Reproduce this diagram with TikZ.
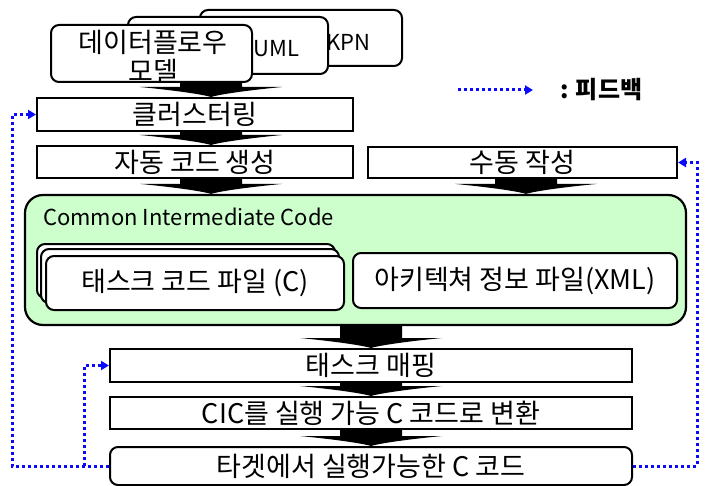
\documentclass[tikz,border=0pt]{standalone}
\usepackage{fontspec}
\setmainfont{Noto Sans CJK KR}
\usetikzlibrary{arrows.meta,calc}
\definecolor{cicgreen}{RGB}{204,255,204}
\definecolor{fbblue}{RGB}{10,10,255}
\pgfdeclarelayer{background}
\pgfsetlayers{background,main}
\newcommand\blockarrow[3]{%
  \begin{pgfonlayer}{background}
  \fill[blockarr] let \p1=(#1 |- #2.south), \p2=(#1 |- #3.north) in
    (\x1-31pt,\y1) -- (\x1-31pt,\y2+10pt) -- (\x1-71pt,\y2+10pt)
    .. controls (\x1-40pt,\y2+7pt) and (\x1-10pt,\y2+3pt) .. (\x1,\y2)
    .. controls (\x1+10pt,\y2+3pt) and (\x1+40pt,\y2+7pt) .. (\x1+71pt,\y2+10pt)
    -- (\x1+31pt,\y2+10pt) -- (\x1+31pt,\y1) -- cycle;
  \end{pgfonlayer}}
\begin{document}
\begin{tikzpicture}[x=1pt,y=-1pt,
  box/.style={draw=black,line width=2pt,fill=white,inner sep=0pt,
    font=\fontsize{27}{29}\selectfont},
  rbox/.style={box,rounded corners=8pt},
  greenbox/.style={draw=black,line width=2.2pt,fill=cicgreen,rounded corners=18pt,inner sep=0pt},
  kor/.style={inner sep=0pt,font=\fontsize{27}{29}\selectfont,align=center},
  lat/.style={inner sep=0pt,font=\fontsize{22}{26}\selectfont},
  fb/.style={draw=fbblue,line width=3pt,dash pattern=on 3pt off 3pt},
  fbtip/.style={-{Triangle[length=8pt,width=9pt]}},
  blockarr/.style={fill=black},
]
\useasboundingbox (0,0) rectangle (708,486);

% source models (stacked)
\node[rbox,minimum width=202pt,minimum height=56pt] (kpn) at (301,38) {};
\node[lat] (kpntxt) at (348.5,42) {KPN};
\node[rbox,minimum width=200pt,minimum height=57pt] (uml) at (228,45.5) {};
\node[lat] (umltxt) at (276.5,49) {UML};
\node[rbox,minimum width=201pt,minimum height=57pt] (dfm) at (151.5,53.5) {};
\node[kor] (dfmtxt) at (153,56.5) {데이터플로우\\모델};

% process boxes
\node[box,minimum width=316pt,minimum height=33pt] (cluster) at (195,114.5) {클러스터링};
\node[box,minimum width=316pt,minimum height=32pt] (auto) at (195,162) {자동 코드 생성};
\node[box,minimum width=309pt,minimum height=31pt] (manual) at (522.5,162.5) {수동 작성};

% common intermediate code
\node[greenbox,minimum width=661pt,minimum height=130pt] (cic) at (355.5,260) {};
\node[lat,anchor=west] (cictxt) at (43,217) {Common Intermediate Code};
\node[rbox,minimum width=298pt,minimum height=54pt] (taskb1) at (186,271) {};
\node[rbox,minimum width=298pt,minimum height=54pt] (taskb2) at (190,276) {};
\node[rbox,minimum width=298pt,minimum height=54pt] (task) at (195,283) {태스크 코드 파일 (C)};
\node[rbox,minimum width=324pt,minimum height=55pt] (arch) at (515,280.5) {아키텍쳐 정보 파일(XML)};

% lower process
\node[box,minimum width=522pt,minimum height=33pt] (mapping) at (371,365.5) {태스크 매핑};
\node[box,minimum width=522pt,minimum height=32pt] (convert) at (371,413) {CIC를 실행 가능 C 코드로 변환};
\node[rbox,minimum width=522pt,minimum height=38pt] (target) at (371,466) {타겟에서 실행가능한 C 코드};

% block arrows
\coordinate (colA) at (211,0);
\coordinate (colB) at (526,0);
\coordinate (colC) at (371,0);
\blockarrow{colA}{dfm}{cluster}
\blockarrow{colA}{cluster}{auto}
\blockarrow{colA}{auto}{cic}
\blockarrow{colB}{manual}{cic}
\blockarrow{colC}{cic}{mapping}
\blockarrow{colC}{mapping}{convert}
\blockarrow{colC}{convert}{target}

% feedback
\coordinate (fbL) at (12,0);
\coordinate (fbM) at (84,0);
\coordinate (fbR) at (697,0);
\draw[fb,fbtip] (target.west) -- (target.west -| fbL) |- (cluster.west);
\draw[fb,fbtip] (target.west -| fbM) |- (mapping.west);
\draw[fb,fbtip] (target.east) -- (target.east -| fbR) |- (manual.east);

% legend
\coordinate (legA) at (458,90);
\coordinate (legB) at (533,90);
\draw[fb,fbtip] (legA) -- (legB);
\node[kor,anchor=west,font=\fontsize{24}{28}\selectfont\bfseries] (legtxt) at (560,90) {: 피드백};
\end{tikzpicture}
\end{document}
